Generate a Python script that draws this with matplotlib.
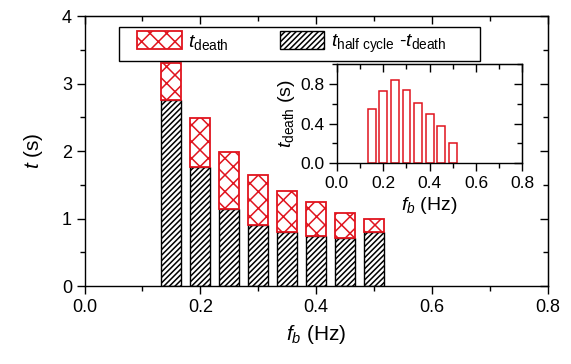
import matplotlib.pyplot as plt
from matplotlib.patches import Rectangle
from matplotlib.ticker import MultipleLocator, NullFormatter

plt.rcParams['font.family'] = ['Liberation Sans', 'DejaVu Sans']
plt.rcParams['mathtext.fontset'] = 'custom'
plt.rcParams['mathtext.rm'] = 'Liberation Sans'
plt.rcParams['mathtext.it'] = 'Liberation Sans:italic'
plt.rcParams['hatch.linewidth'] = 1.1

# data
fb = [0.15, 0.20, 0.25, 0.30, 0.35, 0.40, 0.45, 0.50]
t_death = [0.55, 0.73, 0.84, 0.74, 0.61, 0.50, 0.38, 0.20]
t_rest = [2.75, 1.76, 1.14, 0.90, 0.80, 0.74, 0.71, 0.80]   # t_half cycle - t_death

red = '#e0141e'
bw = 0.034

fig = plt.figure(figsize=(5.71, 3.64), dpi=100)
ax = fig.add_axes([0.148, 0.214, 0.811, 0.742])

ax.bar(fb, t_rest, width=bw, color='white', edgecolor='black', hatch='//////',
       linewidth=1.0, label=r'$t_{\mathrm{half\ cycle}}$ -$t_{\mathrm{death}}$')
ax.bar(fb, t_death, width=bw, bottom=t_rest, color='white', edgecolor=red,
       hatch='xx', linewidth=1.3, label=r'$t_{\mathrm{death}}$')


def style_axes(a, xmaj, xmin, ymaj, ymin, fs):
    a.xaxis.set_major_locator(MultipleLocator(xmaj))
    a.xaxis.set_minor_locator(MultipleLocator(xmin))
    a.yaxis.set_major_locator(MultipleLocator(ymaj))
    a.yaxis.set_minor_locator(MultipleLocator(ymin))
    a.tick_params(which='major', direction='out', length=6, width=1, labelsize=fs, pad=3)
    a.tick_params(which='minor', direction='out', length=3.5, width=1)
    for s in a.spines.values():
        s.set_linewidth(1.0)
    top = a.secondary_xaxis('top')
    top.xaxis.set_major_locator(MultipleLocator(xmaj))
    top.xaxis.set_minor_locator(MultipleLocator(xmin))
    top.tick_params(which='major', direction='in', length=6, width=1)
    top.tick_params(which='minor', direction='in', length=3.5, width=1)
    top.xaxis.set_major_formatter(NullFormatter())
    right = a.secondary_yaxis('right')
    right.yaxis.set_major_locator(MultipleLocator(ymaj))
    right.yaxis.set_minor_locator(MultipleLocator(ymin))
    right.tick_params(which='major', direction='in', length=6, width=1)
    right.tick_params(which='minor', direction='in', length=3.5, width=1)
    right.yaxis.set_major_formatter(NullFormatter())


ax.set_xlim(0, 0.8)
ax.set_ylim(0, 4)
style_axes(ax, 0.2, 0.1, 1, 0.5, 13)
ax.xaxis.set_major_formatter(lambda v, p: f'{v:.1f}')
ax.set_xlabel(r'$f_b$ (Hz)', fontsize=15, labelpad=5)
ax.set_ylabel(r'$t$ (s)', fontsize=15, labelpad=12)

# legend with a hand-placed frame (wider side padding than top/bottom)
ax.add_patch(Rectangle((0.074, 0.833), 0.78, 0.126, transform=ax.transAxes,
                       facecolor='white', edgecolor='black', linewidth=1.0, zorder=4))
h, l = ax.get_legend_handles_labels()
leg = ax.legend(h[::-1], l[::-1], loc='upper left', bbox_to_anchor=(0.113, 0.945),
                ncol=2, fontsize=14, frameon=False, handlelength=2.3, handleheight=1.05,
                columnspacing=2.6, borderpad=0, handletextpad=0.35, borderaxespad=0)
leg.set_zorder(5)

# inset
ins = fig.add_axes([0.590, 0.552, 0.325, 0.271])
ins.bar(fb, t_death, width=bw, color='white', edgecolor=red, linewidth=1.1)
ins.set_xlim(0, 0.8)
ins.set_ylim(0, 1.0)
style_axes(ins, 0.2, 0.1, 0.4, 0.2, 12.5)
ins.xaxis.set_major_formatter(lambda v, p: f'{v:.1f}')
ins.yaxis.set_major_formatter(lambda v, p: f'{v:.1f}')
ins.set_xlabel(r'$f_b$ (Hz)', fontsize=14, labelpad=3)
ins.set_ylabel(r'$t_{\mathrm{death}}$ (s)', fontsize=14, labelpad=2)

fig.savefig('out.png', dpi=100)
